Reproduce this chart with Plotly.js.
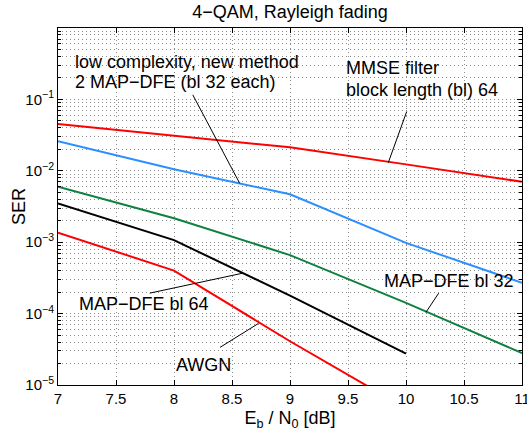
<!DOCTYPE html>
<html>
<head>
<meta charset="utf-8">
<script src="https://cdn.plot.ly/plotly-3.0.1.min.js"></script>
<style>html,body{margin:0;padding:0;background:#fff;}#chart{width:527px;height:434px;}</style>
</head>
<body>
<div id="chart"></div>
<script>
// ---- data ----
var ebn0 = [7, 8, 9, 10, 11];
var serMMSE = [0.0452, 0.031, 0.0213, 0.0123, 0.00703];
var serLowComplexity = [0.026, 0.0105, 0.0047, 0.00098, 0.00027];
var serMapDfe32 = [0.006, 0.00216, 0.00066, 0.000141, 0.000028];
var ebn0Dfe64 = [7, 8, 9, 10];
var serMapDfe64 = [0.0035, 0.00107, 0.000178, 0.0000275];
var ebn0Awgn = [7, 8, 9, 10];
var serAWGN = [0.00136, 0.000401, 0.000041, 0.0000047];

var yTickVals = [1e-5, 1e-4, 1e-3, 1e-2, 1e-1];
var yTickText = ['10<sup>\u22125</sup>', '10<sup>\u22124</sup>', '10<sup>\u22123</sup>', '10<sup>\u22122</sup>', '10<sup>\u22121</sup>'];
var yMinorVals = [];
for (var e = -5; e <= -1; e++) { for (var d = 2; d <= 9; d++) { yMinorVals.push(d * Math.pow(10, e)); } }

var FONT = 'Liberation Sans, Arial, Helvetica, sans-serif';
var gridDash = '1px,3px';
var gridColor = '#8c8c8c';

function line(x, y, color) {
  return {x: x, y: y, type: 'scatter', mode: 'lines', line: {color: color, width: 2}, hoverinfo: 'skip', showlegend: false};
}

var traces = [
  line(ebn0, serMMSE, '#ff0000'),
  line(ebn0, serLowComplexity, '#2b8fff'),
  line(ebn0, serMapDfe32, '#0e8040'),
  line(ebn0Dfe64, serMapDfe64, '#000000'),
  line(ebn0Awgn, serAWGN, '#ff0000')
];

function label(text, x, ly, xanchor) {
  return {text: text, x: x, y: ly, xref: 'x', yref: 'y', showarrow: false,
          xanchor: xanchor || 'center', yanchor: 'middle', font: {family: FONT, size: 18, color: '#000'}};
}
function leader(tx, tly, hx, hly) {
  return {text: '', x: hx, y: hly, xref: 'x', yref: 'y', ax: tx, ay: tly, axref: 'x', ayref: 'y',
          showarrow: true, arrowhead: 0, arrowwidth: 1, arrowcolor: '#000', standoff: 0, startstandoff: 0};
}

var annotations = [
  label('low complexity, new method', 7.129, -0.472, 'left'),
  label('2 MAP\u2212DFE (bl 32 each)', 7.129, -0.752, 'left'),
  label('MMSE filter', 9.462, -0.564, 'left'),
  label('block length (bl) 64', 9.462, -0.868, 'left'),
  label('MAP\u2212DFE bl 32', 10.367, -3.539),
  label('MAP\u2212DFE bl 64', 7.744, -3.866),
  label('AWGN', 8.255, -4.72),
  leader(8.155, -0.915, 8.566, -2.175),
  leader(10.011, -1.148, 9.847, -1.887),
  leader(10.29, -3.693, 10.172, -3.982),
  leader(7.778, -3.718, 8.586, -3.436),
  leader(8.384, -4.486, 8.729, -4.137),
  {text: 'SER', xref: 'paper', yref: 'paper', x: -0.0851, y: 0.5, textangle: -90, showarrow: false,
   xanchor: 'center', yanchor: 'middle', font: {family: FONT, size: 18, color: '#000'}}
];

var layout = {
  width: 527, height: 434,
  margin: {l: 58, r: 5, t: 28, b: 49},
  paper_bgcolor: '#fff', plot_bgcolor: '#fff',
  font: {family: FONT, size: 15, color: '#000'},
  title: {text: '4\u2212QAM, Rayleigh fading', font: {family: FONT, size: 18, color: '#000'},
          x: 0.5, xref: 'paper', xanchor: 'center', y: 0.974, yref: 'container', yanchor: 'middle'},
  xaxis: {
    range: [7, 11], tick0: 7, dtick: 0.5, ticks: 'inside', ticklen: 5, tickcolor: '#000',
    showline: true, linecolor: '#000', linewidth: 1, mirror: 'ticks',
    showgrid: true, gridcolor: gridColor, griddash: gridDash, gridwidth: 1, zeroline: false,
    ticklabeloverflow: 'allow',
    tickfont: {family: FONT, size: 15, color: '#000'},
    title: {text: 'E<sub>b</sub> / N<sub>0</sub> [dB]', font: {family: FONT, size: 18, color: '#000'}, standoff: 5}
  },
  yaxis: {
    type: 'log', range: [-5, 0], tickmode: 'array', tickvals: yTickVals, ticktext: yTickText,
    ticks: 'inside', ticklen: 5, tickcolor: '#000',
    showline: true, linecolor: '#000', linewidth: 1, mirror: 'ticks',
    showgrid: true, gridcolor: gridColor, griddash: gridDash, gridwidth: 1, zeroline: false,
    tickfont: {family: FONT, size: 15, color: '#000'},
    minor: {tickmode: 'array', tickvals: yMinorVals, ticks: 'inside', ticklen: 3, tickcolor: '#000',
            showgrid: true, gridcolor: gridColor, griddash: gridDash, gridwidth: 1}
  },
  annotations: annotations,
  showlegend: false
};

Plotly.newPlot('chart', traces, layout, {displayModeBar: false, staticPlot: true});
</script>
</body>
</html>
